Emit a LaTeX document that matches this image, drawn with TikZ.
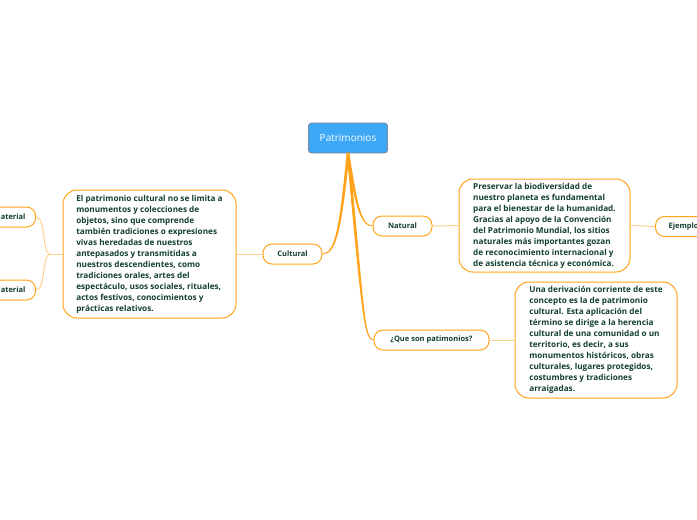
\documentclass[tikz,border=0pt]{standalone}
\usepackage{fontspec}
\setmainfont{Open Sans}
\usepackage{tikz}
\usetikzlibrary{positioning}
\definecolor{mapblue}{HTML}{3DA8F6}
\definecolor{mapgray}{HTML}{7C8794}
\definecolor{maporange}{HTML}{FFA31A}
\definecolor{maplight}{HTML}{FFD28C}
\definecolor{maptext}{HTML}{123F2E}

\begin{document}
\begin{tikzpicture}[x=1pt, y=-1pt,
  topic/.style={draw=maporange, line width=1pt, fill=white, rounded corners=9pt,
    text=maptext, font=\fontsize{7.5}{9}\selectfont\bfseries, minimum height=20pt},
  notebox/.style={draw=maporange, line width=1pt, fill=white, rounded corners=14pt,
    text=maptext, font=\fontsize{8.2}{11}\selectfont\bfseries, align=left,
    inner sep=0pt},
  mainlink/.style={fill=maporange, draw=maporange, line width=0.9pt},
  sublink/.style={draw=maplight, line width=1pt}]
  \clip (0,0) rectangle (697,520);
  % central topic
  \node[draw=mapgray, fill=mapblue, rounded corners=3pt, text=white, line width=0.8pt,
    minimum width=79pt, minimum height=30pt, font=\fontsize{10}{12}\selectfont] (patr) at (348,138) {Patrimonios};
  % first level
  \node[topic, minimum width=59pt] (cult) at (292.5,254) {Cultural};
  \node[topic, minimum width=59pt] (nat) at (402.5,226) {Natural};
  \node[topic, minimum width=115pt] (que) at (431.5,340) {¿Que son patimonios?};
  % text boxes
  \node[notebox, minimum width=173pt, minimum height=128pt] (ctxt) at (149.5,254) {El patrimonio cultural no se limita a\\
    monumentos y colecciones de\\ objetos, sino que comprende\\
    también tradiciones o expresiones\\ vivas heredadas de nuestros\\
    antepasados y transmitidas a\\ nuestros descendientes, como\\
    tradiciones orales, artes del\\ espectáculo, usos sociales, rituales,\\
    actos festivos, conocimientos y\\ prácticas relativos.};
  \node[notebox, minimum width=171pt, minimum height=93pt] (ntxt) at (544.5,225.5) {Preservar la biodiversidad de\\
    nuestro planeta es fundamental\\ para el bienestar de la humanidad.\\
    Gracias al apoyo de la Convención\\ del Patrimonio Mundial, los sitios\\
    naturales más importantes gozan\\ de reconocimiento internacional y\\
    de asistencia técnica y económica.};
  \node[notebox, minimum width=162pt, minimum height=116pt] (qtxt) at (596,340) {Una derivación corriente de este\\
    concepto es la de patrimonio\\ cultural. Esta aplicación del\\
    término se dirige a la herencia\\ cultural de una comunidad o un\\
    territorio, es decir, a sus\\ monumentos históricos, obras\\
    culturales, lugares protegidos,\\ costumbres y tradiciones\\ arraigadas.};
  % nodes cut by the frame
  \node[topic, anchor=east, inner xsep=10pt] (inm) at (36,217) {Inmaterial};
  \node[topic, anchor=east, inner xsep=10pt] (mat) at (36,290) {Material};
  \node[topic, anchor=west, minimum width=60pt] (ejem) at (655,226.5) {Ejemplos};
  \coordinate (fork) at (50,254);
  % connectors, thick at the root and thin at the end
  \path[mainlink] ([xshift=-0.9pt]patr.south) .. controls (340,225) and (336,253.8) .. (cult.east)
    .. controls (336.5,254.2) and (341.8,225) .. ([xshift=0.9pt]patr.south) -- cycle;
  \path[mainlink] ([xshift=-0.9pt]patr.south) .. controls (355,206) and (361,225.8) .. (nat.west)
    .. controls (361,226.2) and (357,205) .. ([xshift=0.9pt]patr.south) -- cycle;
  \path[mainlink] ([xshift=-0.9pt]patr.south) .. controls (362,310) and (364,339.8) .. (que.west)
    .. controls (364,340.2) and (364,310) .. ([xshift=0.9pt]patr.south) -- cycle;
  \draw[sublink] (cult.west) -- (ctxt.east);
  \draw[sublink] (nat.east) -- (ntxt.west);
  \draw[sublink] (que.east) -- (qtxt.west);
  \draw[sublink] (ntxt.east) -- (ejem.west);
  \draw[sublink] (ctxt.west) -- (fork);
  \draw[sublink] (fork) .. controls (42,254) and (46,217) .. (inm.east);
  \draw[sublink] (fork) .. controls (42,254) and (46,290) .. (mat.east);
\end{tikzpicture}
\end{document}
